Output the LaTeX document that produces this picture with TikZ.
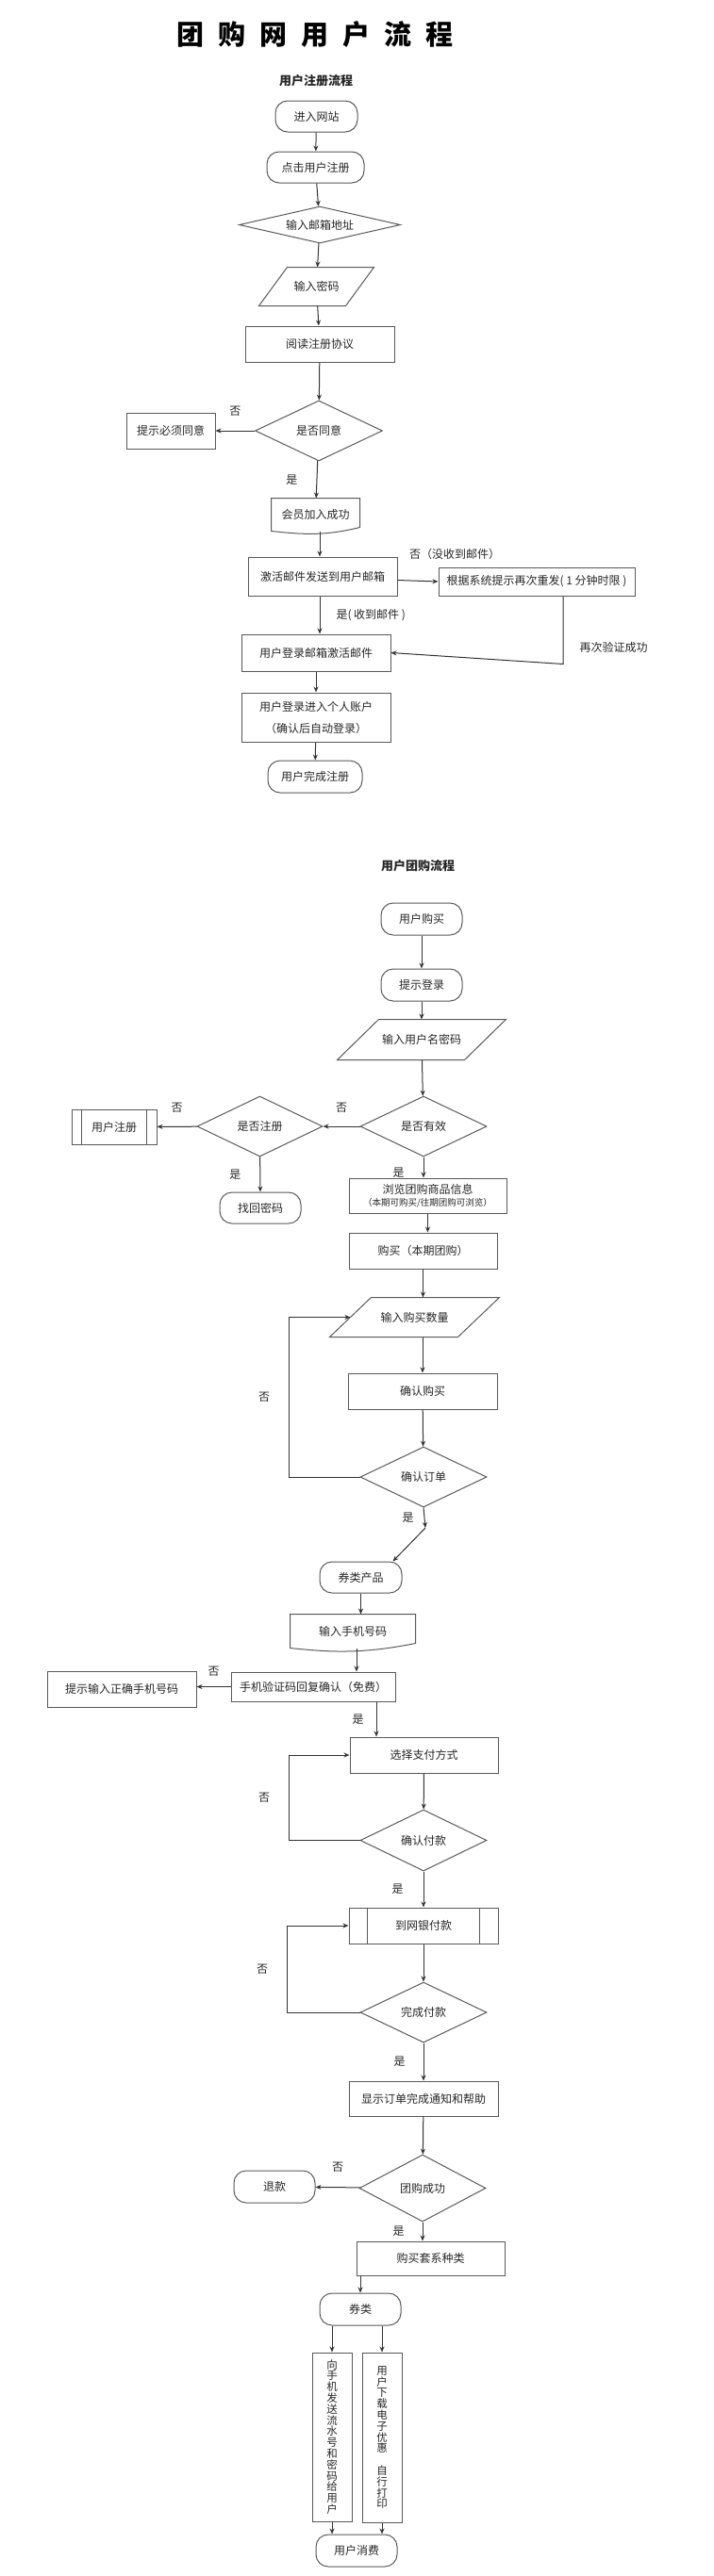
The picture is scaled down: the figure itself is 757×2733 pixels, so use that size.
\documentclass[tikz,border=0pt]{standalone}
\usepackage{fontspec}
\newfontfamily\cjk{Noto Sans CJK SC}
\usetikzlibrary{shapes.geometric, arrows.meta, positioning, calc}

\tikzset{
  shapebase/.style={draw=black!65, line width=1pt, text=black!85, font=\cjk\fontsize{12pt}{14pt}\selectfont, inner sep=1pt},
  outline/.style={draw=black!65, line width=1pt},
  term/.style={shapebase, rectangle, rounded corners=13pt, minimum width=86pt, minimum height=34pt},
  procbox/.style={shapebase, rectangle, minimum width=158pt, minimum height=38pt},
  decision/.style={shapebase, diamond, aspect=2, minimum width=134pt, minimum height=64pt},
  iobox/.style={shapebase, draw=none, rectangle},
  docbox/.style={shapebase, draw=none, rectangle},
  vbox/.style={shapebase, rectangle, minimum width=42pt, minimum height=180pt, align=center, font=\cjk\fontsize{11.5pt}{11.8pt}\selectfont},
  lbl/.style={text=black!85, font=\cjk\fontsize{12pt}{14pt}\selectfont, inner sep=1pt},
  arr/.style={draw=black!80, line width=1pt, ->},
}

\begin{document}
\begin{tikzpicture}[x=1pt, y=-1pt, >={Stealth[length=6pt,width=5pt]}]
  \useasboundingbox (0,0) rectangle (757,2733);

  % titles
  \node[font=\cjk\bfseries\fontsize{29pt}{31pt}\selectfont] (title) at (334,37) {团\hspace{15pt}购\hspace{15pt}网\hspace{15pt}用\hspace{15pt}户\hspace{15pt}流\hspace{15pt}程};
  \node[lbl, font=\cjk\bfseries\fontsize{13pt}{15pt}\selectfont] (regtitle) at (335,86) {用户注册流程};
  \node[lbl, font=\cjk\bfseries\fontsize{13pt}{15pt}\selectfont] (buytitle) at (443,919) {用户团购流程};

  % user registration
  \node[term, minimum width=87pt, minimum height=33pt] (r1) at (335.5,123.5) {进入网站};
  \node[term, minimum width=103pt, minimum height=33pt] (r2) at (334.5,177.5) {点击用户注册};
  \node[decision, aspect=4.4, minimum width=171pt, minimum height=39pt] (r3) at (339,238.5) {输入邮箱地址};
  \node[iobox, minimum width=91pt, minimum height=40pt] (r4) at (335.5,304) {输入密码};
  \draw[outline] ([xshift=15pt]r4.north west) -- ([xshift=15pt]r4.north east)
    -- ([xshift=-15pt]r4.south east) -- ([xshift=-15pt]r4.south west) -- cycle;
  \node[procbox] (r5) at (339,365) {阅读注册协议};
  \node[decision, minimum width=135pt] (r6) at (338,457) {是否同意};
  \node[procbox, minimum width=94pt] (r7) at (181,457) {提示必须同意};
  \node[docbox, minimum width=93pt, minimum height=34pt] (r8) at (334.5,546) {会员加入成功};
  \draw[outline] (r8.south west) -- (r8.north west) -- (r8.north east) -- ([yshift=4pt]r8.south east)
    .. controls +(-40,10) and +(30,3) .. (r8.south west);
  \node[procbox, minimum height=41pt] (r9) at (342,611.5) {激活邮件发送到用户邮箱};
  \node[procbox, minimum width=208pt, minimum height=30pt] (r10) at (569,617) {根据系统提示再次重发( 1 分钟时限 )};
  \node[procbox, minimum height=39pt] (r11) at (335,692.5) {用户登录邮箱激活邮件};
  \node[procbox, minimum height=52pt, align=center, font=\cjk\fontsize{12pt}{23pt}\selectfont] (r12) at (335,761) {用户登录进入个人账户\\（确认后自动登录）};
  \node[term, minimum width=100pt] (r13) at (334,824) {用户完成注册};

  \draw[arr] (r1) -- (r2);
  \draw[arr] (r2) -- (r3);
  \draw[arr] (r3) -- (r4);
  \draw[arr] (r4) -- (r5);
  \draw[arr] (r5) -- (r6);
  \draw[arr] (r6) -- (r7) node[lbl, midway, above=14pt] {否};
  \draw[arr] (r6) -- (r8) node[lbl, midway, left=19pt] {是};
  \draw[arr] ([xshift=4.5pt]r8.south) -- ([xshift=4.5pt]r8.south |- r9.north);
  \draw[arr] ([yshift=-4pt]r9.east) -- (r10.west) node[lbl, at start, above right=20pt and 11pt] {否（没收到邮件）};
  \draw[arr] ([xshift=-3pt]r9.south) -- ([xshift=-3pt]r9.south |- r11.north) node[lbl, midway, right=16pt] {是( 收到邮件 )};
  \draw[arr] ([xshift=28pt]r10.south) -- ++(0,72) node[lbl, pos=.76, right=16pt] {再次验证成功} -- (r11.east);
  \draw[arr] (r11) -- (r12);
  \draw[arr] (r12) -- (r13);

  % group buying
  \node[term] (p1) at (447,975) {用户购买};
  \node[term] (p2) at (447,1045) {提示登录};
  \node[iobox, minimum width=134pt, minimum height=42pt] (p3) at (447,1103) {输入用户名密码};
  \draw[outline] ([xshift=22pt]p3.north west) -- ([xshift=22pt]p3.north east)
    -- ([xshift=-22pt]p3.south east) -- ([xshift=-22pt]p3.south west) -- cycle;
  \node[decision] (p4) at (449,1195) {是否有效};
  \node[decision, minimum width=133pt] (p5) at (275.5,1195) {是否注册};
  \node[procbox, minimum width=90pt, minimum height=37pt] (p6) at (121,1195.5) {用户注册};
  \draw[outline] ([xshift=11pt]p6.north west) -- ([xshift=11pt]p6.south west)
                 ([xshift=-11pt]p6.north east) -- ([xshift=-11pt]p6.south east);
  \node[term, minimum height=33pt] (p7) at (276,1281.5) {找回密码};
  \node[procbox, minimum width=167pt, minimum height=37pt, align=center, font=\cjk\fontsize{12pt}{13.5pt}\selectfont] (p8) at (453.5,1268.5) {浏览团购商品信息\\{\fontsize{9.5pt}{11pt}\selectfont （本期可购买/往期团购可浏览）}};
  \node[procbox, minimum width=157pt] (p9) at (448.5,1327) {购买（本期团购）};
  \node[iobox, minimum width=135pt, minimum height=41pt] (p10) at (439.5,1397.5) {输入购买数量};
  \draw[outline] ([xshift=22pt]p10.north west) -- ([xshift=22pt]p10.north east)
    -- ([xshift=-22pt]p10.south east) -- ([xshift=-22pt]p10.south west) -- cycle;
  \node[procbox] (p11) at (448,1476) {确认购买};
  \node[decision] (p12) at (449,1567) {确认订单};
  \coordinate (k1) at (451,1621);
  \node[term, minimum width=87pt, minimum height=33pt] (p13) at (382.5,1673.5) {券类产品};
  \node[docbox, minimum width=132pt, minimum height=35pt] (p14) at (374,1730.5) {输入手机号码};
  \draw[outline] (p14.south west) -- (p14.north west) -- (p14.north east) -- ([yshift=5pt]p14.south east)
    .. controls +(-60,12) and +(40,4) .. (p14.south west);
  \node[procbox, minimum width=174pt, minimum height=31pt] (p15) at (332,1789.5) {手机验证码回复确认（免费）};
  \node[procbox] (p16) at (129,1792) {提示输入正确手机号码};
  \node[procbox, minimum width=157pt] (p17) at (449.5,1862) {选择支付方式};
  \node[decision, minimum height=65pt] (p18) at (449,1952.5) {确认付款};
  \node[procbox] (p19) at (449,2043) {到网银付款};
  \draw[outline] ([xshift=20pt]p19.north west) -- ([xshift=20pt]p19.south west)
                 ([xshift=-20pt]p19.north east) -- ([xshift=-20pt]p19.south east);
  \node[decision] (p20) at (449,2135) {完成付款};
  \node[procbox, minimum height=37pt] (p21) at (449,2226.5) {显示订单完成通知和帮助};
  \node[decision, minimum height=71pt] (p22) at (448,2321.5) {团购成功};
  \node[term] (p23) at (291,2320) {退款};
  \node[procbox, minimum width=157pt, minimum height=36pt] (p24) at (456.5,2396) {购买套系种类};
  \node[term] (p25) at (382,2450) {券类};
  \node[vbox, minimum height=179pt] (p26) at (352,2585.5) {向\\手\\机\\发\\送\\流\\水\\号\\和\\密\\码\\给\\用\\户};
  \node[vbox] (p27) at (405,2586) {用\\户\\下\\载\\电\\子\\优\\惠\\\mbox{}\\自\\行\\打\\印};
  \node[term] (p28) at (378,2706) {用户消费};

  \draw[arr] (p1) -- (p2);
  \draw[arr] (p2) -- (p3);
  \draw[arr] (p3) -- (p4);
  \draw[arr] (p4) -- (p5) node[lbl, midway, above=13pt] {否};
  \draw[arr] (p5) -- (p6) node[lbl, midway, above=13pt] {否};
  \draw[arr] (p5) -- (p7) node[lbl, midway, left=19pt] {是};
  \draw[arr] (p4.south) -- (p4.south |- p8.north) node[lbl, pos=.75, left=19pt] {是};
  \draw[arr] (p8.south) -- (p8.south |- p9.north);
  \draw[arr] (p9.south) -- (p9.south |- p10.north);
  \draw[arr] (p10.south -| p11) -- (p11.north);
  \draw[arr] (p11) -- (p12);
  \draw[arr] (p12.west) -- ++(-75,0) |- (p10.west) node[lbl, pos=.25, left=19pt] {否};
  \draw[arr] (p12.south) -- (k1) node[lbl, midway, left=10pt] {是};
  \draw[arr] (k1) -- ([xshift=-10pt]p13.north east);
  \draw[arr] (p13.south) -- (p13.south |- p14.north);
  \draw[arr] ([xshift=4pt]p14.south) -- ([xshift=4pt]p14.south |- p15.north);
  \draw[arr] (p15.west) -- (p15.west -| p16.east) node[lbl, midway, above=10pt] {否};
  \draw[arr] ([xshift=67pt]p15.south) -- ([xshift=67pt]p15.south |- p17.north) node[lbl, midway, left=12pt] {是};
  \draw[arr] (p17) -- (p18);
  \draw[arr] (p18.west) -- ++(-75,0) |- (p17.west) node[lbl, pos=.25, left=19pt] {否};
  \draw[arr] (p18) -- (p19) node[lbl, midway, left=20pt] {是};
  \draw[arr] (p19) -- (p20);
  \draw[arr] (p20.west) -- ++(-77,0) |- (p19.west) node[lbl, pos=.25, left=19pt] {否};
  \draw[arr] (p20) -- (p21) node[lbl, midway, left=18pt] {是};
  \draw[arr] (p21) -- (p22);
  \draw[arr] (p22) -- (p23) node[lbl, midway, above=15pt] {否};
  \draw[arr] (p22.south) -- (p22.south |- p24.north) node[lbl, midway, left=18pt] {是};
  \draw[arr] (p24.south -| p25) -- (p25);
  \draw[arr] (p25.south -| p26) -- (p26);
  \draw[arr] (p25.south -| p27) -- (p27);
  \draw[arr] (p26) -- (p26 |- p28.north);
  \draw[arr] (p27) -- (p27 |- p28.north);
\end{tikzpicture}
\end{document}
